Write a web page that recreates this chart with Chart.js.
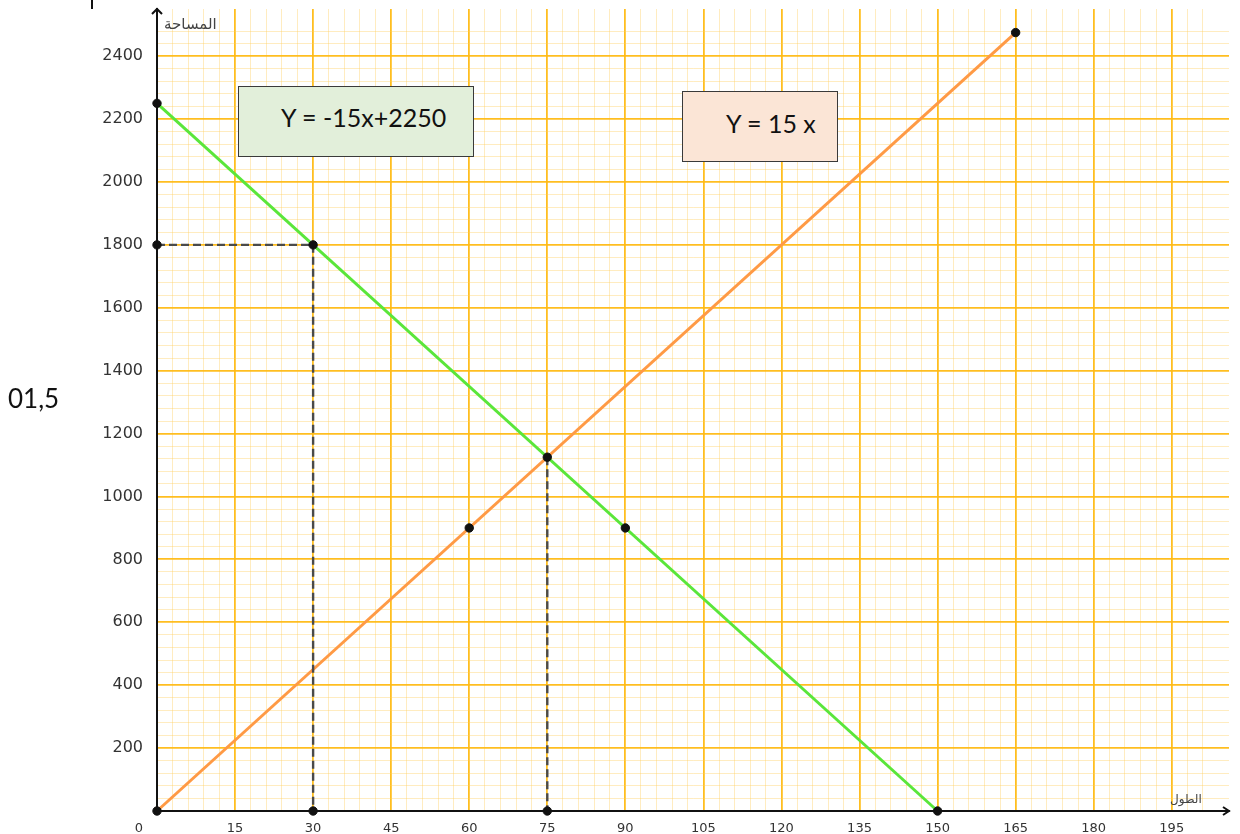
<!DOCTYPE html>
<html>
<head>
<meta charset="utf-8">
<script src="https://cdn.jsdelivr.net/npm/chart.js@4"></script>
<style>
  html, body { margin: 0; padding: 0; background: #fff; }
  #wrap { position: relative; width: 1240px; height: 834px; overflow: hidden; }
  canvas { position: absolute; left: 0; top: 0; }
  .box { position: absolute; border: 1.5px solid #3a3a3a; box-sizing: border-box; font-family: Lato, "Open Sans", sans-serif; color: #111; white-space: nowrap; }
  #boxA { left: 238px; top: 86px; width: 236px; height: 71px; background: #e2efda; font-size: 25px; }
  #boxA span { position: absolute; left: 42px; top: 15px; }
  #boxB { left: 682px; top: 91px; width: 156px; height: 71px; background: #fbe5d6; font-size: 25px; }
  #boxB span { position: absolute; left: 43px; top: 16px; }
  #side { position: absolute; left: 8px; top: 382px; font-family: Lato, "Open Sans", sans-serif; font-size: 26px; color: #111; }
  #mark { position: absolute; left: 91px; top: 0; width: 2px; height: 9px; background: #111; }
</style>
</head>
<body>
<div id="wrap">
  <canvas id="c" width="1240" height="834"></canvas>
  <div id="mark"></div>
  <div class="box" id="boxA"><span>Y = -15x+2250</span></div>
  <div class="box" id="boxB"><span>Y = 15 x</span></div>
  <div id="side">01,5</div>
</div>
<script>
// ---- data ----
const decreasingX = [0, 150];
const decreasingY = [2250, 0];
const increasingX = [0, 165];
const increasingY = [0, 2475];
const guideAX = [0, 30, 30];
const guideAY = [1800, 1800, 0];
const guideBX = [75, 75];
const guideBY = [1125, 0];
const pointsX = [0, 0, 30, 0, 30, 75, 150, 60, 90, 75, 165];
const pointsY = [2250, 1800, 1800, 0, 0, 0, 0, 900, 900, 1125, 2475];
const xTickLabels = [15, 30, 45, 60, 75, 90, 105, 120, 135, 150, 165, 180, 195];
const yTickLabels = [200, 400, 600, 800, 1000, 1200, 1400, 1600, 1800, 2000, 2200, 2400];
const xTitle = 'الطول';
const yTitle = 'المساحة';

const toXY = (xs, ys) => xs.map((x, i) => ({ x: x, y: ys[i] }));

const MAJOR = 'rgba(255,186,20,0.95)';
const MINOR = 'rgba(255,205,90,0.38)';

function gridColor(majorStep, minorStep) {
  return (ctx) => {
    const v = ctx.tick ? ctx.tick.value : null;
    if (v === null || v === undefined) return 'rgba(0,0,0,0)';
    if (Math.abs(v % majorStep) < 1e-6) return MAJOR;
    if (Math.abs(v % minorStep) < 1e-6) return MINOR;
    return 'rgba(0,0,0,0)';
  };
}
function gridWidth(majorStep) {
  return (ctx) => {
    const v = ctx.tick ? ctx.tick.value : 0;
    return Math.abs(v % majorStep) < 1e-6 ? 1.8 : 1;
  };
}

const extras = {
  id: 'extras',
  afterDraw(chart) {
    const { ctx, scales } = chart;
    const xs = scales.x, ys = scales.y;
    const x0 = xs.getPixelForValue(0), y0 = ys.getPixelForValue(0);
    const top = chart.chartArea.top, right = chart.chartArea.right;
    ctx.save();
    // arrows
    ctx.strokeStyle = '#111';
    ctx.lineWidth = 2;
    ctx.beginPath();
    ctx.moveTo(x0 - 5, top + 5); ctx.lineTo(x0, top); ctx.lineTo(x0 + 5, top + 5);
    ctx.moveTo(right - 6, y0 - 4); ctx.lineTo(right, y0); ctx.lineTo(right - 6, y0 + 4);
    ctx.stroke();
    // "0" label at the corner
    ctx.fillStyle = '#333';
    ctx.font = '13px "DejaVu Sans"';
    ctx.textAlign = 'center';
    ctx.textBaseline = 'top';
    ctx.fillText('0', x0 - 18, y0 + 11);
    // axis titles
    ctx.fillStyle = '#444';
    ctx.direction = 'rtl';
    ctx.textAlign = 'left';
    ctx.textBaseline = 'middle';
    ctx.font = '15px "DejaVu Sans"';
    ctx.fillText(yTitle, x0 + 7, top + 16);
    ctx.font = '12px "DejaVu Sans"';
    ctx.fillText(xTitle, right - 59, y0 - 11);
    ctx.restore();
  }
};

new Chart(document.getElementById('c'), {
  type: 'scatter',
  data: {
    datasets: [
      { type: 'line', data: toXY(decreasingX, decreasingY), borderColor: '#5ae63a', borderWidth: 3, pointRadius: 0, fill: false, clip: false, order: 4 },
      { type: 'line', data: toXY(increasingX, increasingY), borderColor: '#ff9a45', borderWidth: 3, pointRadius: 0, fill: false, clip: false, order: 3 },
      { type: 'line', data: toXY(guideAX, guideAY), borderColor: '#4a4a4a', borderWidth: 2.4, borderDash: [8, 4], pointRadius: 0, fill: false, clip: false, order: 2 },
      { type: 'line', data: toXY(guideBX, guideBY), borderColor: '#4a4a4a', borderWidth: 2.4, borderDash: [8, 4], pointRadius: 0, fill: false, clip: false, order: 2 },
      { data: toXY(pointsX, pointsY), backgroundColor: '#111', borderColor: '#111', pointRadius: 4.2, clip: false, order: 1 }
    ]
  },
  options: {
    responsive: false,
    animation: false,
    events: [],
    layout: { padding: { top: 9, right: 11, left: 0, bottom: 0 } },
    plugins: { legend: { display: false }, tooltip: { enabled: false } },
    scales: {
      x: {
        type: 'linear', min: 0, max: 206,
        afterFit: (s) => { s.height = 23; s.paddingLeft = 0; s.paddingRight = 0; },
        border: { display: true, color: '#111', width: 2 },
        grid: { color: gridColor(15, 3), lineWidth: gridWidth(15), drawTicks: false },
        ticks: {
          stepSize: 3, autoSkip: false, maxRotation: 0, padding: 10,
          color: '#333', font: { family: 'DejaVu Sans', size: 13 },
          callback: (v) => xTickLabels.includes(v) ? String(v) : ''
        }
      },
      y: {
        type: 'linear', min: 0, max: 2550,
        afterFit: (s) => { s.width = 157; s.paddingTop = 0; s.paddingBottom = 0; },
        border: { display: true, color: '#111', width: 2 },
        grid: { color: gridColor(200, 40), lineWidth: gridWidth(200), drawTicks: false },
        ticks: {
          stepSize: 40, autoSkip: false, padding: 14,
          color: '#333', font: { family: 'DejaVu Sans', size: 16 },
          callback: (v) => yTickLabels.includes(v) ? String(v) : ''
        }
      }
    }
  },
  plugins: [extras]
});
</script>
</body>
</html>
